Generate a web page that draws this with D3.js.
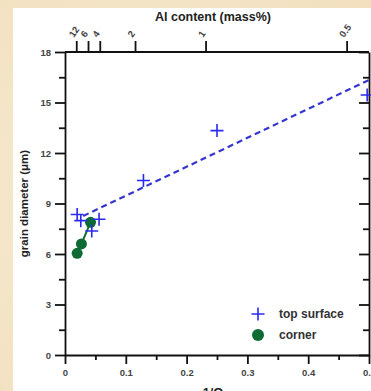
<!DOCTYPE html>
<html><head><meta charset="utf-8">
<script src="https://cdn.jsdelivr.net/npm/d3@7"></script>
<style>
html,body{margin:0;padding:0;background:#f5e6c8;}
svg{display:block;}
</style></head>
<body>
<script>
// ---- data ----
const topX = [0.020, 0.026, 0.044, 0.056, 0.129, 0.250, 0.497];
const topY = [8.35, 7.98, 7.37, 8.06, 10.37, 13.33, 15.45];
const cornerX = [0.020, 0.027, 0.042];
const cornerY = [6.04, 6.60, 7.88];
const fitX = [0.030, 0.500];
const fitY = [8.26, 16.34];
const xTicks = [0, 0.1, 0.2, 0.3, 0.4, 0.5];
const xMinor = [0.05, 0.15, 0.25, 0.35, 0.45];
const yTicks = [0, 3, 6, 9, 12, 15, 18];
const yMinor = [1.5, 4.5, 7.5, 10.5, 13.5, 16.5];
const alTicks = [12, 6, 4, 2, 1, 0.5];
const alFactor = 0.232; // 1/Omega = alFactor / Al
const legendLabels = ["top surface", "corner"];

const W = 371, H = 391;
const svg = d3.select("body").append("svg").attr("width", W).attr("height", H);

// parchment background
const defs = svg.append("defs");
const g0 = defs.append("radialGradient").attr("id","bg").attr("cx","40%").attr("cy","50%").attr("r","80%");
g0.append("stop").attr("offset","0%").attr("stop-color","#f8ecd4");
g0.append("stop").attr("offset","100%").attr("stop-color","#f1dfbd");
svg.append("rect").attr("width",W).attr("height",H).attr("fill","url(#bg)");
svg.append("rect").attr("x",13).attr("y",8).attr("width",W-13).attr("height",H-8).attr("fill","#fff");

const x = d3.scaleLinear().domain([0, 0.5]).range([65, 369]);
const y = d3.scaleLinear().domain([0, 18]).range([355, 52]);
const font = "Liberation Sans, Arial, sans-serif";
const axisCol = "#111";

function styleAxis(g){
  g.selectAll("path.domain").attr("stroke", axisCol).attr("stroke-width", 1.8);
  g.selectAll(".tick line").attr("stroke", axisCol).attr("stroke-width", 1.8);
  g.selectAll(".tick text").attr("fill","#444").attr("font-family",font).attr("font-weight","bold").attr("font-size","9.5px");
}

// bottom axis
const gb = svg.append("g").attr("transform",`translate(0,${y(0)})`)
  .call(d3.axisBottom(x).tickValues(xTicks).tickFormat(d3.format("")).tickSize(9).tickSizeOuter(0).tickPadding(5));
styleAxis(gb);
svg.append("g").attr("transform",`translate(0,${y(0)})`)
  .call(d3.axisBottom(x).tickValues(xMinor).tickFormat("").tickSize(5).tickSizeOuter(0))
  .call(g=>{g.select("path.domain").remove(); g.selectAll("line").attr("stroke",axisCol).attr("stroke-width",1.8);});

// left axis
const gl = svg.append("g").attr("transform",`translate(${x(0)},0)`)
  .call(d3.axisLeft(y).tickValues(yTicks).tickSize(10).tickSizeOuter(0).tickPadding(4));
styleAxis(gl);
svg.append("g").attr("transform",`translate(${x(0)},0)`)
  .call(d3.axisLeft(y).tickValues(yMinor).tickFormat("").tickSize(6).tickSizeOuter(0))
  .call(g=>{g.select("path.domain").remove(); g.selectAll("line").attr("stroke",axisCol).attr("stroke-width",1.8);});

// right axis (inward ticks)
const gr = svg.append("g").attr("transform",`translate(${x(0.5)},0)`)
  .call(d3.axisLeft(y).tickValues(yTicks).tickFormat("").tickSize(10).tickSizeOuter(0));
styleAxis(gr);
svg.append("g").attr("transform",`translate(${x(0.5)},0)`)
  .call(d3.axisLeft(y).tickValues(yMinor).tickFormat("").tickSize(6).tickSizeOuter(0))
  .call(g=>{g.select("path.domain").remove(); g.selectAll("line").attr("stroke",axisCol).attr("stroke-width",1.8);});

// top axis (Al content)
const alPos = d => x(alFactor / d);
svg.append("line").attr("x1",x(0)).attr("x2",x(0.5)).attr("y1",y(18)).attr("y2",y(18))
  .attr("stroke",axisCol).attr("stroke-width",1.8);
const gt = svg.append("g");
gt.selectAll("line.t").data(alTicks).join("line")
  .attr("x1",alPos).attr("x2",alPos).attr("y1",y(18)).attr("y2",y(18)-11)
  .attr("stroke",axisCol).attr("stroke-width",1.8);
gt.selectAll("text").data(alTicks).join("text")
  .attr("transform",d=>`translate(${alPos(d)-3},${y(18)-14}) rotate(-55)`)
  .attr("font-family",font).attr("font-weight","bold").attr("font-size","9.5px").attr("fill","#444")
  .text(d=>d);

// titles
svg.append("text").attr("x",213).attr("y",21).attr("text-anchor","middle")
  .attr("font-family",font).attr("font-weight","bold").attr("font-size","12.5px").attr("fill","#222")
  .text("Al content (mass%)");
svg.append("text").attr("transform",`translate(28,${(y(0)+y(18))/2}) rotate(-90)`).attr("text-anchor","middle")
  .attr("font-family",font).attr("font-weight","bold").attr("font-size","11.5px").attr("fill","#222")
  .text("grain diameter (\u03bcm)");
svg.append("text").attr("x",213).attr("y",397).attr("text-anchor","middle")
  .attr("font-family",font).attr("font-weight","bold").attr("font-size","12.5px").attr("fill","#222")
  .text("1/\u03a9");

const blue = "#2a2af0", green = "#0d6b33";

// fit line
svg.append("path").datum(fitX.map((v,i)=>[v, fitY[i]]))
  .attr("d", d3.line().x(d=>x(d[0])).y(d=>y(d[1])))
  .attr("fill","none").attr("stroke","#3535d0").attr("stroke-width",2.2).attr("stroke-dasharray","6,4");

// corner line + circles
const cornerData = cornerX.map((v,i)=>[v, cornerY[i]]);
svg.append("path").datum(cornerData)
  .attr("d", d3.line().x(d=>x(d[0])).y(d=>y(d[1])))
  .attr("fill","none").attr("stroke",green).attr("stroke-width",2);
svg.selectAll("circle.c").data(cornerData).join("circle")
  .attr("cx",d=>x(d[0])).attr("cy",d=>y(d[1])).attr("r",5.5).attr("fill",green);

// top surface crosses
const sym = d3.symbol().type(d3.symbolCross);
const plus = (s) => `M${-s},0H${s}M0,${-s}V${s}`;
svg.selectAll("path.p").data(topX.map((v,i)=>[v, topY[i]])).join("path")
  .attr("transform",d=>`translate(${x(d[0])},${y(d[1])})`)
  .attr("d", plus(6.5)).attr("stroke",blue).attr("stroke-width",1.6).attr("fill","none");

// legend
const lg = svg.append("g");
lg.append("path").attr("transform","translate(258,314)").attr("d",plus(6.5))
  .attr("stroke",blue).attr("stroke-width",1.6);
lg.append("circle").attr("cx",258).attr("cy",335).attr("r",6).attr("fill",green);
lg.selectAll("text").data(legendLabels).join("text")
  .attr("x",279).attr("y",(d,i)=>318+i*21)
  .attr("font-family",font).attr("font-size","12px").attr("fill","#333").attr("font-weight","600")
  .text(d=>d);
</script>
</body></html>
